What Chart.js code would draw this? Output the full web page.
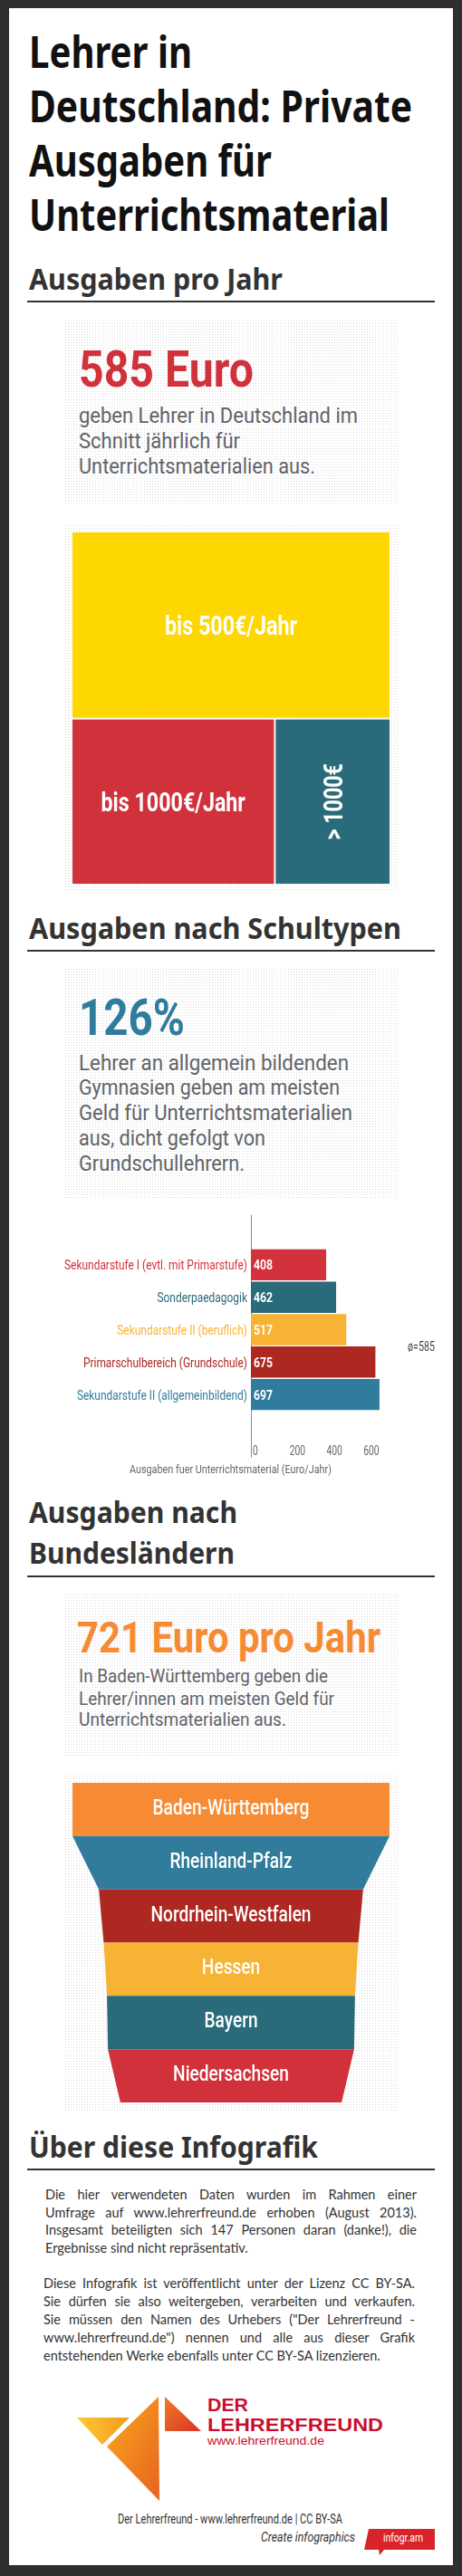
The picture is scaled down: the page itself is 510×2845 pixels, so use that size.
<!DOCTYPE html>
<html lang="de">
<head>
<meta charset="utf-8">
<title>Lehrer in Deutschland: Private Ausgaben für Unterrichtsmaterial</title>
<script src="https://cdn.jsdelivr.net/npm/chart.js@4.4.1/dist/chart.umd.min.js"></script>
<style>
  html, body { margin: 0; padding: 0; }
  body { width: 510px; height: 2845px; position: relative; overflow: hidden; background: #2f2f2f; }
  .panel { position: absolute; left: 10px; top: 9px; width: 490px; height: 2824px; background: #fff; }
  .box {
    position: absolute; left: 70px; width: 370px;
    background-color: #dcdcdc;
    background-image: linear-gradient(90deg, #fff 2px, transparent 2px),
                      linear-gradient(180deg, #fff 2px, transparent 2px);
    background-size: 3px 3px;
  }
  .rule { position: absolute; left: 30px; width: 450px; height: 2px; background: #333; }
  .tx { position: absolute; left: 0; top: 0; white-space: nowrap; line-height: 1; }
  .tx .in { display: inline-block; transform-origin: 0 0; }
  .tx .bl { display: inline-block; width: 0; height: 0; }
  canvas { position: absolute; }
  svg { position: absolute; }
</style>
</head>
<body>
<div class="panel"></div>

<div class="box" style="top:352px;height:205px"></div>
<div class="box" style="top:578px;height:405px"></div>
<div class="box" style="top:1068px;height:257px"></div>
<div class="box" style="top:1759px;height:180px"></div>
<div class="box" style="top:1959px;height:373px"></div>

<div class="rule" style="top:332px"></div>
<div class="rule" style="top:1049px"></div>
<div class="rule" style="top:1740px"></div>
<div class="rule" style="top:2395px"></div>

<canvas id="treeChart" width="370" height="405" style="left:70px;top:578px"></canvas>
<canvas id="schoolChart" width="490" height="300" style="left:10px;top:1330px"></canvas>
<canvas id="funnelChart" width="370" height="373" style="left:70px;top:1959px"></canvas>

<svg width="150" height="130" style="left:80px;top:2640px" viewBox="0 0 150 130">
  <defs>
    <linearGradient id="g1" x1="0" y1="0" x2="1" y2="0">
      <stop offset="0" stop-color="#fcc934"/><stop offset="1" stop-color="#f39b1f"/>
    </linearGradient>
    <linearGradient id="g2" x1="0" y1="0" x2="1" y2="1">
      <stop offset="0" stop-color="#f9a91f"/><stop offset="1" stop-color="#e8621f"/>
    </linearGradient>
    <linearGradient id="g3" x1="0" y1="0" x2="1" y2="1">
      <stop offset="0" stop-color="#f07a28"/><stop offset="1" stop-color="#d83427"/>
    </linearGradient>
  </defs>
  <polygon points="5,30 63,30 33,60" fill="url(#g1)"/>
  <polygon points="95,7 38,62 96,122" fill="url(#g2)"/>
  <polygon points="102,7 142,45 102,45" fill="url(#g3)"/>
</svg>

<svg width="80" height="32" style="left:401px;top:2792px" viewBox="0 0 80 32">
  <polygon points="6,1 79,1 79,24 23,24 18,30 17,24 1,24" fill="#d8232a"/>
</svg>

<script>
// Ausgaben pro Jahr (Anteil der Lehrer, %)
const spendBands = ['bis 500€/Jahr', 'bis 1000€/Jahr', '> 1000€'];
const spendShare = [53, 30, 17];
const spendColors = ['#fed700', '#d1313a', '#2a6b7b'];

// Ausgaben nach Schultypen (Euro/Jahr)
const schoolTypes = [
  'Sekundarstufe I (evtl. mit Primarstufe)',
  'Sonderpaedagogik',
  'Sekundarstufe II (beruflich)',
  'Primarschulbereich (Grundschule)',
  'Sekundarstufe II (allgemeinbildend)'
];
const schoolSpend = [408, 462, 517, 675, 697];
const schoolColors = ['#d3313c', '#2a6b7b', '#f7b334', '#ae2822', '#307c9d'];
const spendTicks = [0, 200, 400, 600];
const schoolAverage = 585;

// Ausgaben nach Bundesländern (Euro/Jahr, geschätzt aus der Trichterbreite)
const states = ['Baden-Württemberg', 'Rheinland-Pfalz', 'Nordrhein-Westfalen', 'Hessen', 'Bayern', 'Niedersachsen'];
const stateSpend = [721, 601, 579, 564, 560, 503];
const stateColors = ['#f68b33', '#317b9b', '#ae2822', '#f7b334', '#2a6b7b', '#d1313a'];

const TITLE = '"Noto Sans", "Open Sans", sans-serif';
const NARROW = 'Roboto, "Noto Sans", sans-serif';
const BODY = 'Lato, "Noto Sans", sans-serif';
const LOGO = '"Liberation Sans", Arial, sans-serif';
const GREY = '#5f646a';

// width needed to squeeze a font into the narrow look of the original
function narrowScale(ctx, font, sample, width) {
  ctx.save();
  ctx.font = font;
  const m = ctx.measureText(sample).width;
  ctx.restore();
  return width / m;
}

function drawText(ctx, text, x, y, font, color, sx, align = 'center', rot = 0, dy = 0) {
  ctx.save();
  ctx.translate(x, y);
  if (rot) ctx.rotate(rot);
  ctx.scale(sx, 1);
  ctx.font = font;
  ctx.fillStyle = color;
  ctx.textAlign = align;
  ctx.textBaseline = 'alphabetic';
  ctx.fillText(text, 0, dy);
  ctx.restore();
}

// ---------- Treemap ----------
const treemapPlugin = {
  id: 'treemap',
  afterDatasetsDraw(chart) {
    const { ctx, scales: { x, y } } = chart;
    const total = spendShare.reduce((a, b) => a + b, 0);
    const topH = spendShare[0] / total;
    const restTotal = total - spendShare[0];
    const cells = [{ x0: 0, x1: 1, y0: 0, y1: topH }];
    let acc = 0;
    for (let i = 1; i < spendShare.length; i++) {
      cells.push({ x0: acc / restTotal, x1: (acc + spendShare[i]) / restTotal, y0: topH, y1: 1 });
      acc += spendShare[i];
    }
    const font = 'bold 29px ' + NARROW;
    const sx = narrowScale(ctx, font, spendBands[0], 146);
    cells.forEach((c, i) => {
      const px0 = x.getPixelForValue(c.x0) + (c.x0 > 0 ? 1 : 0);
      const px1 = x.getPixelForValue(c.x1) - (c.x1 < 1 ? 1 : 0);
      const py0 = y.getPixelForValue(c.y0) + (c.y0 > 0 ? 1 : 0);
      const py1 = y.getPixelForValue(c.y1) - (c.y1 < 1 ? 1 : 0);
      ctx.fillStyle = spendColors[i];
      ctx.fillRect(px0, py0, px1 - px0, py1 - py0);
      const vertical = (px1 - px0) < 150;
      drawText(ctx, spendBands[i], (px0 + px1) / 2, (py0 + py1) / 2, font, '#fff', sx,
        'center', vertical ? -Math.PI / 2 : 0, 10.3);
    });
  }
};

new Chart(document.getElementById('treeChart'), {
  type: 'scatter',
  data: { datasets: [{ data: [] }] },
  options: {
    responsive: false,
    animation: false,
    events: [],
    layout: { padding: { top: 10, bottom: 7, left: 10, right: 10 } },
    plugins: { legend: { display: false }, tooltip: { enabled: false } },
    scales: {
      x: { type: 'linear', min: 0, max: 1, display: false },
      y: { type: 'linear', min: 0, max: 1, reverse: true, display: false }
    }
  },
  plugins: [treemapPlugin]
});

// ---------- Schultypen ----------
const schoolPlugin = {
  id: 'schoolLabels',
  beforeDatasetsDraw(chart) {
    const { ctx, chartArea, scales: { x } } = chart;
    const x0 = Math.round(x.getPixelForValue(0)) + 0.5;
    ctx.save();
    ctx.strokeStyle = '#8c8c8c';
    ctx.lineWidth = 1;
    ctx.beginPath();
    ctx.moveTo(x0, chartArea.top - 1.5);
    ctx.lineTo(x0, chartArea.bottom + 16);
    ctx.stroke();
    ctx.restore();
  },
  afterDatasetsDraw(chart) {
    const { ctx, chartArea, scales: { x, y } } = chart;
    const x0 = x.getPixelForValue(0);
    const labelFont = '15px ' + NARROW;
    const sxL = narrowScale(ctx, labelFont, schoolTypes[0], 202);
    const valFont = 'bold 15px ' + NARROW;
    const sxV = narrowScale(ctx, valFont, '408', 21);
    schoolTypes.forEach((name, i) => {
      const yc = y.getPixelForValue(i) + 5.5;
      drawText(ctx, name, x0 - 4, yc, labelFont, schoolColors[i], sxL, 'right');
      drawText(ctx, String(schoolSpend[i]), x0 + 3, yc, valFont, '#fff', sxV, 'left');
    });
    const tickFont = '14px ' + NARROW;
    const sxT = narrowScale(ctx, tickFont, '200', 17.4);
    spendTicks.forEach(v => {
      drawText(ctx, String(v), x.getPixelForValue(v) + 2, chartArea.bottom + 13, tickFont, '#666', sxT, 'left');
    });
  }
};

new Chart(document.getElementById('schoolChart'), {
  type: 'bar',
  data: {
    datasets: [{
      data: schoolSpend.map((v, i) => ({ x: v, y: i })),
      backgroundColor: schoolColors,
      borderWidth: 0,
      barPercentage: 0.96,
      categoryPercentage: 1
    }]
  },
  options: {
    responsive: false,
    animation: false,
    events: [],
    indexAxis: 'y',
    layout: { padding: { left: 267, right: 80.5, top: 13.25, bottom: 36.25 } },
    plugins: { legend: { display: false }, tooltip: { enabled: false } },
    scales: {
      x: { type: 'linear', min: 0, max: 700, display: false },
      y: { type: 'linear', min: -1, max: 5, reverse: true, display: false }
    }
  },
  plugins: [schoolPlugin]
});

// ---------- Bundesländer (Trichter) ----------
const funnelPlugin = {
  id: 'funnel',
  afterDatasetsDraw(chart) {
    const { ctx, scales: { x } } = chart;
    const meta = chart.getDatasetMeta(0);
    const font = '500 23px ' + NARROW;
    const sx = narrowScale(ctx, font, 'Nordrhein-Westfalen', 177);
    meta.data.forEach((bar, i) => {
      const { y, height } = bar.getProps(['y', 'height'], true);
      const top = y - height / 2;
      const bottom = y + height / 2;
      const prev = stateSpend[Math.max(i - 1, 0)];
      const cur = stateSpend[i];
      ctx.beginPath();
      ctx.moveTo(x.getPixelForValue(-prev / 2), top);
      ctx.lineTo(x.getPixelForValue(prev / 2), top);
      ctx.lineTo(x.getPixelForValue(cur / 2), bottom);
      ctx.lineTo(x.getPixelForValue(-cur / 2), bottom);
      ctx.closePath();
      ctx.fillStyle = stateColors[i];
      ctx.fill();
      drawText(ctx, states[i], x.getPixelForValue(0), y + 5.5, font, '#fff', sx, 'center');
    });
  }
};

new Chart(document.getElementById('funnelChart'), {
  type: 'bar',
  data: {
    labels: states,
    datasets: [{
      data: stateSpend.map(v => [-v / 2, v / 2]),
      backgroundColor: 'rgba(0,0,0,0)',
      borderWidth: 0,
      barPercentage: 1,
      categoryPercentage: 1
    }]
  },
  options: {
    responsive: false,
    animation: false,
    events: [],
    indexAxis: 'y',
    layout: { padding: 10 },
    plugins: { legend: { display: false }, tooltip: { enabled: false } },
    scales: {
      x: { type: 'linear', min: -360.5, max: 360.5, display: false },
      y: { display: false }
    }
  },
  plugins: [funnelPlugin]
});

// ---------- Texte ----------
const texts = [
  { t: 'Lehrer in', x: 32, b: 75, size: 49, w: 180, font: TITLE, weight: 700, color: '#111' },
  { t: 'Deutschland: Private', x: 32, b: 135, size: 49, w: 423, font: TITLE, weight: 700, color: '#111' },
  { t: 'Ausgaben für', x: 32, b: 195, size: 49, w: 268, font: TITLE, weight: 700, color: '#111' },
  { t: 'Unterrichtsmaterial', x: 32, b: 255, size: 49, w: 398, font: TITLE, weight: 700, color: '#111' },

  { t: 'Ausgaben pro Jahr', x: 32, b: 320, size: 32, w: 280, font: TITLE, weight: 700, color: '#333' },
  { t: '585 Euro', x: 87, b: 427, size: 56, w: 193, font: NARROW, weight: 700, color: '#d1313a' },
  { t: 'geben Lehrer in Deutschland im', x: 87, b: 467, size: 24, w: 308, font: NARROW, color: GREY },
  { t: 'Schnitt jährlich für', x: 87, b: 495, size: 24, w: 178, font: NARROW, color: GREY },
  { t: 'Unterrichtsmaterialien aus.', x: 87, b: 523, size: 24, w: 261, font: NARROW, color: GREY },

  { t: 'Ausgaben nach Schultypen', x: 32, b: 1037, size: 32, w: 411, font: TITLE, weight: 700, color: '#333' },
  { t: '126%', x: 87, b: 1143, size: 56, w: 117, font: NARROW, weight: 700, color: '#307c9d' },
  { t: 'Lehrer an allgemein bildenden', x: 87, b: 1182, size: 24, w: 298, font: NARROW, color: GREY },
  { t: 'Gymnasien geben am meisten', x: 87, b: 1209, size: 24, w: 288, font: NARROW, color: GREY },
  { t: 'Geld für Unterrichtsmaterialien', x: 87, b: 1237, size: 24, w: 302, font: NARROW, color: GREY },
  { t: 'aus, dicht gefolgt von', x: 87, b: 1265, size: 24, w: 206, font: NARROW, color: GREY },
  { t: 'Grundschullehrern.', x: 87, b: 1293, size: 24, w: 183, font: NARROW, color: GREY },

  { t: 'ø=' + schoolAverage, x: 450, b: 1492, size: 14, w: 30, font: NARROW, color: '#444' },
  { t: 'Ausgaben fuer Unterrichtsmaterial (Euro/Jahr)', cx: 254.5, b: 1627, size: 13, w: 223, font: NARROW, color: '#666' },

  { t: 'Ausgaben nach', x: 32, b: 1682, size: 32, w: 230, font: TITLE, weight: 700, color: '#333' },
  { t: 'Bundesländern', x: 32, b: 1727, size: 32, w: 227, font: TITLE, weight: 700, color: '#333' },
  { t: '721 Euro pro Jahr', x: 85, b: 1825, size: 49, w: 335, font: NARROW, weight: 700, color: '#f68b33' },
  { t: 'In Baden-Württemberg geben die', x: 87, b: 1858, size: 21, w: 275, font: NARROW, color: GREY },
  { t: 'Lehrer/innen am meisten Geld für', x: 87, b: 1883, size: 21, w: 282, font: NARROW, color: GREY },
  { t: 'Unterrichtsmaterialien aus.', x: 87, b: 1906, size: 21, w: 229, font: NARROW, color: GREY },

  { t: 'Über diese Infografik', x: 32, b: 2383, size: 32, w: 319, font: TITLE, weight: 700, color: '#333' },

  { t: 'Der Lehrerfreund - www.lehrerfreund.de | CC BY-SA', cx: 254, b: 2787, size: 14, w: 248, font: NARROW, color: '#333' },
  { t: 'Create infographics', x: 288, b: 2807, size: 14, w: 104, font: NARROW, italic: true, color: '#333' },
  { t: 'infogr.am', cx: 445, b: 2807, size: 13, w: 44, font: NARROW, color: '#fff' },

  { t: 'DER', x: 229, b: 2663, size: 21, w: 45, font: LOGO, weight: 700, color: '#c8102e' },
  { t: 'LEHRERFREUND', x: 229, b: 2685, size: 21, w: 194, font: LOGO, weight: 700, color: '#c8102e' },
  { t: 'www.lehrerfreund.de', x: 229, b: 2700, size: 13, w: 129, font: LOGO, color: '#c8102e' }
];

// Absätze im Blocksatz: j = Zeile auf volle Breite ausgleichen
const paraLines = [
  { t: 'Die hier verwendeten Daten wurden im Rahmen einer', x: 50, b: 2429, j: true },
  { t: 'Umfrage auf www.lehrerfreund.de erhoben (August 2013).', x: 50, b: 2449, j: true },
  { t: 'Insgesamt beteiligten sich 147 Personen daran (danke!), die', x: 50, b: 2468, j: true },
  { t: 'Ergebnisse sind nicht repräsentativ.', x: 50, b: 2488, j: false },
  { t: 'Diese Infografik ist veröffentlicht unter der Lizenz CC BY-SA.', x: 48, b: 2527, j: true },
  { t: 'Sie dürfen sie also weitergeben, verarbeiten und verkaufen.', x: 48, b: 2547, j: true },
  { t: 'Sie müssen den Namen des Urhebers ("Der Lehrerfreund -', x: 48, b: 2567, j: true },
  { t: 'www.lehrerfreund.de") nennen und alle aus dieser Grafik', x: 48, b: 2587, j: true },
  { t: 'entstehenden Werke ebenfalls unter CC BY-SA lizenzieren.', x: 48, b: 2607, j: false }
];
const PARA_W = 410;

function makeText(it) {
  const d = document.createElement('div');
  d.className = 'tx';
  d.style.fontFamily = it.font;
  d.style.fontSize = it.size + 'px';
  d.style.fontWeight = it.weight || 400;
  if (it.italic) d.style.fontStyle = 'italic';
  d.style.color = it.color;
  const inner = document.createElement('span');
  inner.className = 'in';
  inner.textContent = it.t;
  const bl = document.createElement('span');
  bl.className = 'bl';
  d.appendChild(inner);
  d.appendChild(bl);
  document.body.appendChild(d);
  return { d, inner, bl, nat: inner.getBoundingClientRect().width };
}

function placeAt(el, left, baseline) {
  el.d.style.left = left + 'px';
  el.d.style.top = (baseline - el.bl.offsetTop) + 'px';
}

texts.forEach(it => {
  const el = makeText(it);
  el.inner.style.transform = `scaleX(${it.w / el.nat})`;
  const left = it.cx !== undefined ? it.cx - it.w / 2 : it.x;
  placeAt(el, left, it.b);
});

const paraEls = paraLines.map(p => makeText({ t: p.t, size: 14.5, font: BODY, color: '#333' }));
const paraScale = Math.min(1, ...paraEls.map(e => PARA_W / e.nat));
paraEls.forEach((el, i) => {
  const p = paraLines[i];
  el.inner.style.transform = `scaleX(${paraScale})`;
  if (p.j) {
    const gaps = (p.t.match(/ /g) || []).length;
    el.inner.style.wordSpacing = ((PARA_W / paraScale - el.nat) / gaps) + 'px';
  }
  placeAt(el, p.x, p.b);
});
</script>
</body>
</html>
